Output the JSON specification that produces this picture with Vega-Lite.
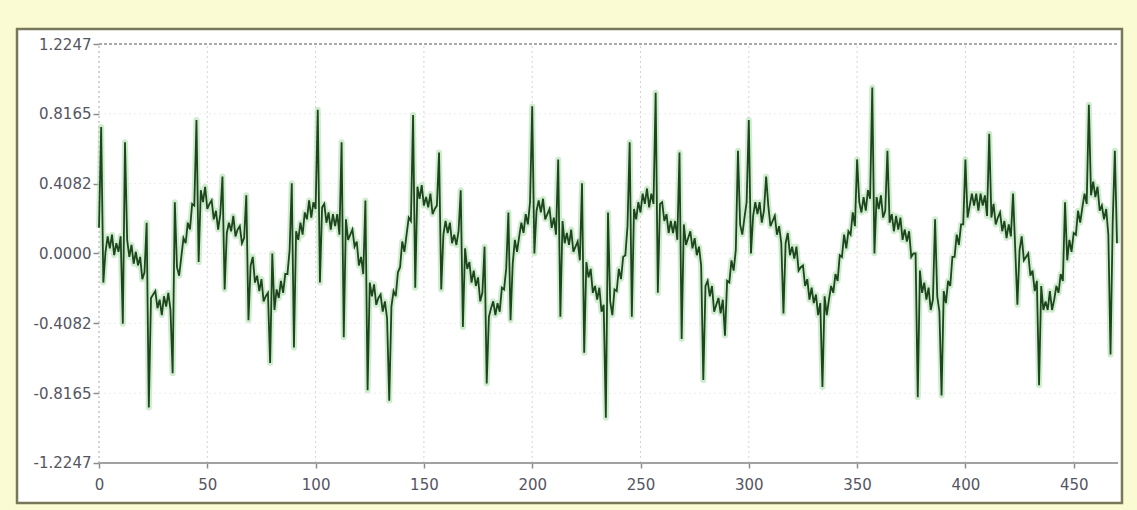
{
  "$schema": "https://vega.github.io/schema/vega-lite/v6.json",
  "width": 1105,
  "height": 474,
  "autosize": {"type": "none"},
  "padding": {"left": 17, "top": 29, "right": 15, "bottom": 7},
  "background": "#fbfbd3",
  "config": {
    "view": {"fill": "#ffffff", "stroke": "#77775a", "strokeWidth": 2.5},
    "locale": {"number": {"decimal": ".", "thousands": ",", "grouping": [3], "currency": ["$", ""], "minus": "-"}}
  },
  "datasets": {
    "vgrid": [{"x": 50}, {"x": 100}, {"x": 150}, {"x": 200}, {"x": 250}, {"x": 300}, {"x": 350}, {"x": 400}, {"x": 450}],
    "hgrid": [{"y": -0.8165}, {"y": -0.4082}, {"y": 0}, {"y": 0.4082}, {"y": 0.8165}],
    "top": [{"y": 1.2247}],
    "bottom": [{"y": -1.2247}],
    "left": [{"x": 0}],
    "sig": [
{"x":0,"y":0.15},{"x":1,"y":0.74},{"x":2,"y":-0.17},{"x":3,"y":0.01},{"x":4,"y":0.10},{"x":5,"y":0.03},{"x":6,"y":0.11},{"x":7,"y":-0.01},{"x":8,"y":0.06},{"x":9,"y":0.01},
{"x":10,"y":0.10},{"x":11,"y":-0.41},{"x":12,"y":0.65},{"x":13,"y":0.08},{"x":14,"y":-0.02},{"x":15,"y":0.05},{"x":16,"y":-0.06},{"x":17,"y":0.01},{"x":18,"y":-0.07},{"x":19,"y":-0.02},
{"x":20,"y":-0.15},{"x":21,"y":-0.11},{"x":22,"y":0.18},{"x":23,"y":-0.90},{"x":24,"y":-0.26},{"x":25,"y":-0.24},{"x":26,"y":-0.22},{"x":27,"y":-0.32},{"x":28,"y":-0.27},{"x":29,"y":-0.36},
{"x":30,"y":-0.25},{"x":31,"y":-0.31},{"x":32,"y":-0.23},{"x":33,"y":-0.33},{"x":34,"y":-0.70},{"x":35,"y":0.30},{"x":36,"y":-0.08},{"x":37,"y":-0.13},{"x":38,"y":-0.02},{"x":39,"y":0.09},
{"x":40,"y":0.06},{"x":41,"y":0.18},{"x":42,"y":0.14},{"x":43,"y":0.29},{"x":44,"y":0.28},{"x":45,"y":0.78},{"x":46,"y":-0.05},{"x":47,"y":0.37},{"x":48,"y":0.30},{"x":49,"y":0.39},
{"x":50,"y":0.26},{"x":51,"y":0.29},{"x":52,"y":0.31},{"x":53,"y":0.20},{"x":54,"y":0.25},{"x":55,"y":0.14},{"x":56,"y":0.23},{"x":57,"y":0.45},{"x":58,"y":-0.21},{"x":59,"y":0.12},
{"x":60,"y":0.18},{"x":61,"y":0.13},{"x":62,"y":0.22},{"x":63,"y":0.10},{"x":64,"y":0.14},{"x":65,"y":0.16},{"x":66,"y":0.06},{"x":67,"y":0.09},{"x":68,"y":0.34},{"x":69,"y":-0.39},
{"x":70,"y":-0.07},{"x":71,"y":-0.02},{"x":72,"y":-0.17},{"x":73,"y":-0.13},{"x":74,"y":-0.22},{"x":75,"y":-0.15},{"x":76,"y":-0.28},{"x":77,"y":-0.25},{"x":78,"y":-0.23},{"x":79,"y":-0.64},
{"x":80,"y":0.0},{"x":81,"y":-0.33},{"x":82,"y":-0.21},{"x":83,"y":-0.26},{"x":84,"y":-0.16},{"x":85,"y":-0.23},{"x":86,"y":-0.12},{"x":87,"y":-0.12},{"x":88,"y":0.02},{"x":89,"y":0.41},
{"x":90,"y":-0.55},{"x":91,"y":0.13},{"x":92,"y":0.08},{"x":93,"y":0.18},{"x":94,"y":0.11},{"x":95,"y":0.24},{"x":96,"y":0.20},{"x":97,"y":0.31},{"x":98,"y":0.21},{"x":99,"y":0.30},
{"x":100,"y":0.26},{"x":101,"y":0.84},{"x":102,"y":-0.17},{"x":103,"y":0.27},{"x":104,"y":0.29},{"x":105,"y":0.18},{"x":106,"y":0.24},{"x":107,"y":0.14},{"x":108,"y":0.23},{"x":109,"y":0.16},
{"x":110,"y":0.23},{"x":111,"y":0.11},{"x":112,"y":0.65},{"x":113,"y":-0.49},{"x":114,"y":0.20},{"x":115,"y":0.08},{"x":116,"y":0.11},{"x":117,"y":0.14},{"x":118,"y":0.04},{"x":119,"y":0.07},
{"x":120,"y":-0.07},{"x":121,"y":-0.02},{"x":122,"y":-0.12},{"x":123,"y":0.31},{"x":124,"y":-0.80},{"x":125,"y":-0.17},{"x":126,"y":-0.25},{"x":127,"y":-0.18},{"x":128,"y":-0.30},{"x":129,"y":-0.26},
{"x":130,"y":-0.24},{"x":131,"y":-0.34},{"x":132,"y":-0.28},{"x":133,"y":-0.38},{"x":134,"y":-0.86},{"x":135,"y":-0.31},{"x":136,"y":-0.22},{"x":137,"y":-0.25},{"x":138,"y":-0.11},{"x":139,"y":-0.08},
{"x":140,"y":0.07},{"x":141,"y":0.01},{"x":142,"y":0.11},{"x":143,"y":0.21},{"x":144,"y":0.19},{"x":145,"y":0.81},{"x":146,"y":-0.20},{"x":147,"y":0.39},{"x":148,"y":0.32},{"x":149,"y":0.40},
{"x":150,"y":0.28},{"x":151,"y":0.33},{"x":152,"y":0.27},{"x":153,"y":0.35},{"x":154,"y":0.23},{"x":155,"y":0.26},{"x":156,"y":0.28},{"x":157,"y":0.59},{"x":158,"y":-0.21},{"x":159,"y":0.11},
{"x":160,"y":0.19},{"x":161,"y":0.12},{"x":162,"y":0.18},{"x":163,"y":0.06},{"x":164,"y":0.11},{"x":165,"y":0.05},{"x":166,"y":0.13},{"x":167,"y":0.37},{"x":168,"y":-0.43},{"x":169,"y":0.03},
{"x":170,"y":-0.09},{"x":171,"y":-0.05},{"x":172,"y":-0.17},{"x":173,"y":-0.10},{"x":174,"y":-0.19},{"x":175,"y":-0.14},{"x":176,"y":-0.28},{"x":177,"y":-0.23},{"x":178,"y":0.04},{"x":179,"y":-0.76},
{"x":180,"y":-0.37},{"x":181,"y":-0.32},{"x":182,"y":-0.28},{"x":183,"y":-0.36},{"x":184,"y":-0.29},{"x":185,"y":-0.34},{"x":186,"y":-0.20},{"x":187,"y":-0.21},{"x":188,"y":-0.09},{"x":189,"y":0.24},
{"x":190,"y":-0.39},{"x":191,"y":-0.06},{"x":192,"y":0.08},{"x":193,"y":0.01},{"x":194,"y":0.10},{"x":195,"y":0.18},{"x":196,"y":0.12},{"x":197,"y":0.23},{"x":198,"y":0.17},{"x":199,"y":0.30},
{"x":200,"y":0.86},{"x":201,"y":0.0},{"x":202,"y":0.25},{"x":203,"y":0.31},{"x":204,"y":0.24},{"x":205,"y":0.32},{"x":206,"y":0.20},{"x":207,"y":0.23},{"x":208,"y":0.26},{"x":209,"y":0.15},
{"x":210,"y":0.21},{"x":211,"y":0.11},{"x":212,"y":0.55},{"x":213,"y":-0.37},{"x":214,"y":0.19},{"x":215,"y":0.06},{"x":216,"y":0.12},{"x":217,"y":0.05},{"x":218,"y":0.14},{"x":219,"y":0.01},
{"x":220,"y":0.04},{"x":221,"y":0.07},{"x":222,"y":-0.04},{"x":223,"y":0.41},{"x":224,"y":-0.58},{"x":225,"y":-0.05},{"x":226,"y":-0.14},{"x":227,"y":-0.09},{"x":228,"y":-0.23},{"x":229,"y":-0.19},
{"x":230,"y":-0.27},{"x":231,"y":-0.20},{"x":232,"y":-0.34},{"x":233,"y":-0.30},{"x":234,"y":-0.96},{"x":235,"y":0.24},{"x":236,"y":-0.28},{"x":237,"y":-0.36},{"x":238,"y":-0.21},{"x":239,"y":-0.22},
{"x":240,"y":-0.09},{"x":241,"y":-0.15},{"x":242,"y":-0.02},{"x":243,"y":-0.01},{"x":244,"y":0.16},{"x":245,"y":0.65},{"x":246,"y":-0.37},{"x":247,"y":0.26},{"x":248,"y":0.20},{"x":249,"y":0.30},
{"x":250,"y":0.24},{"x":251,"y":0.35},{"x":252,"y":0.29},{"x":253,"y":0.38},{"x":254,"y":0.27},{"x":255,"y":0.35},{"x":256,"y":0.29},{"x":257,"y":0.94},{"x":258,"y":-0.23},{"x":259,"y":0.29},
{"x":260,"y":0.30},{"x":261,"y":0.19},{"x":262,"y":0.23},{"x":263,"y":0.12},{"x":264,"y":0.19},{"x":265,"y":0.12},{"x":266,"y":0.19},{"x":267,"y":0.08},{"x":268,"y":0.59},{"x":269,"y":-0.50},
{"x":270,"y":0.17},{"x":271,"y":0.05},{"x":272,"y":0.09},{"x":273,"y":0.13},{"x":274,"y":0.03},{"x":275,"y":0.09},{"x":276,"y":-0.01},{"x":277,"y":0.04},{"x":278,"y":-0.07},{"x":279,"y":-0.74},
{"x":280,"y":-0.19},{"x":281,"y":-0.16},{"x":282,"y":-0.25},{"x":283,"y":-0.19},{"x":284,"y":-0.34},{"x":285,"y":-0.30},{"x":286,"y":-0.26},{"x":287,"y":-0.35},{"x":288,"y":-0.27},{"x":289,"y":-0.48},
{"x":290,"y":-0.16},{"x":291,"y":-0.17},{"x":292,"y":-0.04},{"x":293,"y":-0.10},{"x":294,"y":0.02},{"x":295,"y":0.60},{"x":296,"y":0.17},{"x":297,"y":0.11},{"x":298,"y":0.21},{"x":299,"y":0.30},
{"x":300,"y":0.78},{"x":301,"y":0.0},{"x":302,"y":0.22},{"x":303,"y":0.30},{"x":304,"y":0.23},{"x":305,"y":0.30},{"x":306,"y":0.18},{"x":307,"y":0.25},{"x":308,"y":0.45},{"x":309,"y":0.28},
{"x":310,"y":0.16},{"x":311,"y":0.19},{"x":312,"y":0.22},{"x":313,"y":0.11},{"x":314,"y":0.16},{"x":315,"y":0.06},{"x":316,"y":-0.35},{"x":317,"y":0.06},{"x":318,"y":0.12},{"x":319,"y":-0.01},
{"x":320,"y":0.04},{"x":321,"y":-0.03},{"x":322,"y":0.04},{"x":323,"y":-0.10},{"x":324,"y":-0.08},{"x":325,"y":-0.07},{"x":326,"y":-0.19},{"x":327,"y":-0.15},{"x":328,"y":-0.27},{"x":329,"y":-0.20},
{"x":330,"y":-0.29},{"x":331,"y":-0.24},{"x":332,"y":-0.36},{"x":333,"y":-0.29},{"x":334,"y":-0.78},{"x":335,"y":-0.25},{"x":336,"y":-0.36},{"x":337,"y":-0.27},{"x":338,"y":-0.19},{"x":339,"y":-0.23},
{"x":340,"y":-0.12},{"x":341,"y":-0.16},{"x":342,"y":-0.01},{"x":343,"y":-0.02},{"x":344,"y":0.11},{"x":345,"y":0.03},{"x":346,"y":0.13},{"x":347,"y":0.11},{"x":348,"y":0.24},{"x":349,"y":0.16},
{"x":350,"y":0.55},{"x":351,"y":0.30},{"x":352,"y":0.24},{"x":353,"y":0.33},{"x":354,"y":0.25},{"x":355,"y":0.37},{"x":356,"y":0.32},{"x":357,"y":0.97},{"x":358,"y":0.0},{"x":359,"y":0.33},
{"x":360,"y":0.26},{"x":361,"y":0.34},{"x":362,"y":0.21},{"x":363,"y":0.25},{"x":364,"y":0.60},{"x":365,"y":0.18},{"x":366,"y":0.23},{"x":367,"y":0.13},{"x":368,"y":0.22},{"x":369,"y":0.14},
{"x":370,"y":0.21},{"x":371,"y":0.08},{"x":372,"y":0.14},{"x":373,"y":0.07},{"x":374,"y":0.13},{"x":375,"y":-0.02},{"x":376,"y":0.0},{"x":377,"y":0.0},{"x":378,"y":-0.84},{"x":379,"y":-0.10},
{"x":380,"y":-0.23},{"x":381,"y":-0.17},{"x":382,"y":-0.27},{"x":383,"y":-0.20},{"x":384,"y":-0.33},{"x":385,"y":-0.27},{"x":386,"y":0.20},{"x":387,"y":-0.25},{"x":388,"y":-0.34},{"x":389,"y":-0.83},
{"x":390,"y":-0.22},{"x":391,"y":-0.29},{"x":392,"y":-0.16},{"x":393,"y":-0.19},{"x":394,"y":-0.02},{"x":395,"y":-0.02},{"x":396,"y":0.11},{"x":397,"y":0.05},{"x":398,"y":0.17},{"x":399,"y":0.17},
{"x":400,"y":0.55},{"x":401,"y":0.21},{"x":402,"y":0.28},{"x":403,"y":0.35},{"x":404,"y":0.28},{"x":405,"y":0.35},{"x":406,"y":0.25},{"x":407,"y":0.35},{"x":408,"y":0.28},{"x":409,"y":0.34},
{"x":410,"y":0.22},{"x":411,"y":0.70},{"x":412,"y":0.21},{"x":413,"y":0.29},{"x":414,"y":0.17},{"x":415,"y":0.21},{"x":416,"y":0.24},{"x":417,"y":0.13},{"x":418,"y":0.19},{"x":419,"y":0.09},
{"x":420,"y":0.17},{"x":421,"y":0.10},{"x":422,"y":0.35},{"x":423,"y":0.03},{"x":424,"y":-0.30},{"x":425,"y":0.02},{"x":426,"y":0.10},{"x":427,"y":-0.04},{"x":428,"y":-0.02},{"x":429,"y":0.0},
{"x":430,"y":-0.13},{"x":431,"y":-0.10},{"x":432,"y":-0.22},{"x":433,"y":-0.16},{"x":434,"y":-0.77},{"x":435,"y":-0.19},{"x":436,"y":-0.33},{"x":437,"y":-0.28},{"x":438,"y":-0.33},{"x":439,"y":-0.22},
{"x":440,"y":-0.33},{"x":441,"y":-0.27},{"x":442,"y":-0.19},{"x":443,"y":-0.23},{"x":444,"y":-0.12},{"x":445,"y":-0.16},{"x":446,"y":0.30},{"x":447,"y":-0.04},{"x":448,"y":0.08},{"x":449,"y":0.01},
{"x":450,"y":0.12},{"x":451,"y":0.11},{"x":452,"y":0.25},{"x":453,"y":0.18},{"x":454,"y":0.27},{"x":455,"y":0.35},{"x":456,"y":0.29},{"x":457,"y":0.87},{"x":458,"y":0.34},{"x":459,"y":0.42},
{"x":460,"y":0.33},{"x":461,"y":0.39},{"x":462,"y":0.25},{"x":463,"y":0.28},{"x":464,"y":0.20},{"x":465,"y":0.26},{"x":466,"y":0.11},{"x":467,"y":-0.59},{"x":468,"y":0.18},{"x":469,"y":0.60},
{"x":470,"y":0.06}
    ]
  },
  "layer": [
    {
      "data": {"name": "hgrid"},
      "mark": {"type": "rule", "color": "#ececec", "strokeDash": [2, 3], "strokeWidth": 1},
      "encoding": {
        "y": {
          "field": "y", "type": "quantitative",
          "scale": {"domain": [-1.4586, 1.3124], "nice": false, "zero": false},
          "axis": {"values": [-1.2247, -0.8165, -0.4082, 0, 0.4082, 0.8165, 1.2247], "format": ".4f", "offset": -82, "domain": false, "grid": false, "tickColor": "#8c8c8c", "tickSize": 6, "tickWidth": 1.5, "labelFont": "DejaVu Sans", "labelFontSize": 15, "labelColor": "#555562", "labelPadding": 2, "title": null, "labelFlush": false, "labelOverlap": false}
        },
        "x": {
          "datum": 0, "type": "quantitative",
          "scale": {"domain": [-37.86, 472.3], "nice": false, "zero": false},
          "axis": {"values": [0, 50, 100, 150, 200, 250, 300, 350, 400, 450], "format": "d", "offset": -40, "domain": false, "grid": false, "tickColor": "#8c8c8c", "tickSize": 5, "tickWidth": 1.5, "labelFont": "DejaVu Sans", "labelFontSize": 15, "labelColor": "#555562", "labelPadding": 9, "title": null, "labelFlush": false, "labelOverlap": false}
        },
        "x2": {"datum": 470.5}
      }
    },
    {
      "data": {"name": "vgrid"},
      "mark": {"type": "rule", "color": "#d4d4d4", "strokeDash": [2, 3], "strokeWidth": 1},
      "encoding": {
        "x": {"field": "x", "type": "quantitative", "axis": {"title": null}},
        "y": {"datum": -1.2247, "type": "quantitative", "axis": {"title": null}},
        "y2": {"datum": 1.2247}
      }
    },
    {
      "data": {"name": "left"},
      "mark": {"type": "rule", "color": "#c4c4c4", "strokeDash": [2, 3], "strokeWidth": 1.5},
      "encoding": {
        "x": {"field": "x", "type": "quantitative", "axis": {"title": null}},
        "y": {"datum": -1.2247, "type": "quantitative", "axis": {"title": null}},
        "y2": {"datum": 1.2247}
      }
    },
    {
      "data": {"name": "top"},
      "mark": {"type": "rule", "color": "#a9a9a9", "strokeDash": [3, 2], "strokeWidth": 2},
      "encoding": {
        "y": {"field": "y", "type": "quantitative", "axis": {"title": null}},
        "x": {"datum": 0, "type": "quantitative", "axis": {"title": null}},
        "x2": {"datum": 470.5}
      }
    },
    {
      "data": {"name": "bottom"},
      "mark": {"type": "rule", "color": "#a2a2a2", "strokeWidth": 2},
      "encoding": {
        "y": {"field": "y", "type": "quantitative", "axis": {"title": null}},
        "x": {"datum": 0, "type": "quantitative", "axis": {"title": null}},
        "x2": {"datum": 470.5}
      }
    },
    {
      "data": {"name": "sig"},
      "mark": {"type": "line", "color": "#a8dca8", "strokeWidth": 6, "opacity": 0.55, "strokeJoin": "round", "clip": true},
      "encoding": {
        "x": {"field": "x", "type": "quantitative", "axis": {"title": null}},
        "y": {"field": "y", "type": "quantitative", "axis": {"title": null}}
      }
    },
    {
      "data": {"name": "sig"},
      "mark": {"type": "line", "color": "#1d461d", "strokeWidth": 1.8, "clip": true},
      "encoding": {
        "x": {"field": "x", "type": "quantitative", "axis": {"title": null}},
        "y": {"field": "y", "type": "quantitative", "axis": {"title": null}}
      }
    }
  ]
}
